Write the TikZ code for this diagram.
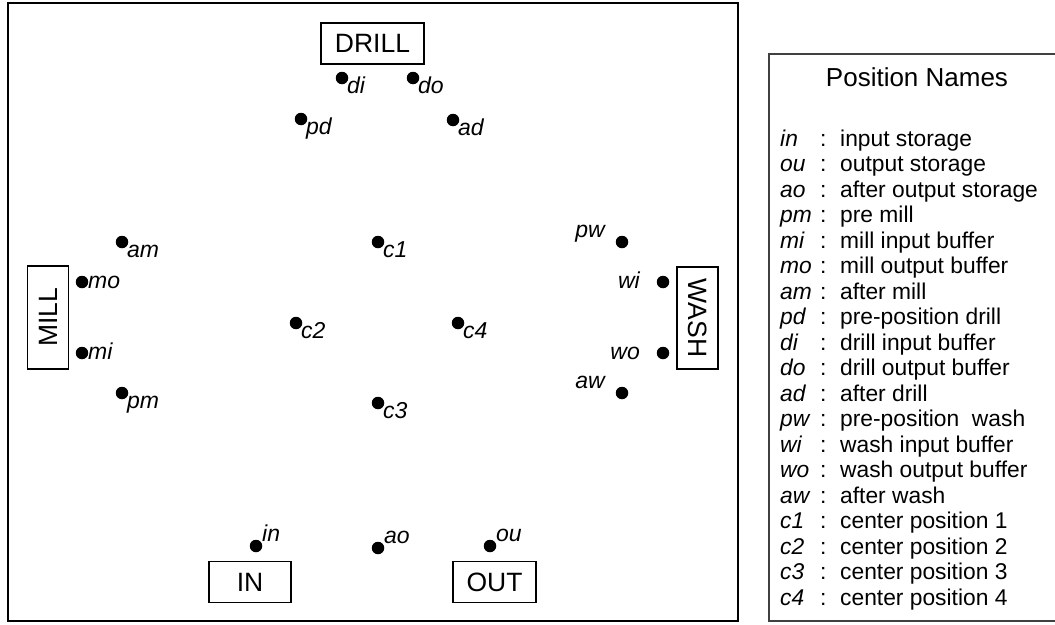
\documentclass[tikz,border=0pt]{standalone}
\usepackage{fontspec}
\setmainfont{Liberation Sans}

\begin{document}
\begin{tikzpicture}[x=1pt, y=-1pt,
    dot/.style={circle, fill=black, inner sep=0pt, minimum size=12.5pt},
    lbl/.style={font=\fontsize{23}{27}\selectfont\itshape, inner sep=0pt},
    station/.style={draw, line width=1.8pt, inner sep=0pt, minimum height=41pt,
        font=\fontsize{26.5}{31}\selectfont},
    entry/.style={font=\fontsize{22.8}{27}\selectfont, inner sep=0pt, anchor=base west}]

    \useasboundingbox (0,0) rectangle (1055,624);

    % 车间
    \draw[line width=2.4pt] (8,3) rectangle (738,621);

    % 工位
    \node[station, minimum width=103pt] (drill) at (372.5,43.5) {DRILL};
    \node[station, minimum width=103pt, rotate=90] (mill) at (48,317.5) {MILL};
    \node[station, minimum width=102pt, rotate=-90] (wash) at (697.5,318) {WASH};
    \node[station, minimum width=82pt] (inbox) at (250,582) {IN};
    \node[station, minimum width=83pt] (outbox) at (494.5,582) {OUT};

    % 位置点
    \foreach \n/\x/\y in {di/342/78, do/413/78, pd/301/119, ad/453/120,
                          am/122/242, mo/82/282, mi/82/353, pm/122/393,
                          pw/622/242, wi/663/282, wo/663/353, aw/622/393,
                          c1/378/242, c2/296/323, c4/458/323, c3/378/403,
                          in/256/546, ao/378/548, ou/490/546}
        \node[dot] (\n) at (\x,\y) {};

    % 位置名 (右下)
    \foreach \n in {di, do, pd, ad, am, pm, c1, c2, c3, c4}
        \node[lbl, anchor=base west] (\n-l) at ([shift={(5,15)}]\n) {\n};
    % 位置名 (右侧)
    \foreach \n in {mo, mi}
        \node[lbl, anchor=base west] (\n-l) at ([shift={(6,6)}]\n) {\n};
    % 位置名 (左侧)
    \foreach \n in {wi, wo}
        \node[lbl, anchor=base east] (\n-l) at ([shift={(-23,6)}]\n) {\n};
    % 位置名 (左上)
    \foreach \n in {pw, aw}
        \node[lbl, anchor=base east] (\n-l) at ([shift={(-17,-5)}]\n) {\n};
    % 位置名 (右上)
    \foreach \n in {in, ao, ou}
        \node[lbl, anchor=base west] (\n-l) at ([shift={(6,-5)}]\n) {\n};

    % 图例
    \draw[black!75, line width=1.5pt] (769,54) rectangle (1062,621);
    \node[font=\fontsize{26}{31}\selectfont, inner sep=0pt, anchor=base] (legend)
        at (917,86) {Position Names};
    \foreach \nm/\desc [count=\i from 0] in {in/input storage, ou/output storage,
            ao/after output storage, pm/pre mill, mi/mill input buffer,
            mo/mill output buffer, am/after mill, pd/pre-position drill,
            di/drill input buffer, do/drill output buffer, ad/after drill,
            pw/pre-position\ \ wash, wi/wash input buffer, wo/wash output buffer,
            aw/after wash, c1/center position 1, c2/center position 2,
            c3/center position 3, c4/center position 4} {
        \node[entry, font=\fontsize{22.8}{27}\selectfont\itshape] (key-\i) at (780,146+25.5*\i) {\nm};
        \node[entry] (colon-\i) at (820,146+25.5*\i) {:};
        \node[entry] (desc-\i) at (840,146+25.5*\i) {\desc};
    }
\end{tikzpicture}
\end{document}
